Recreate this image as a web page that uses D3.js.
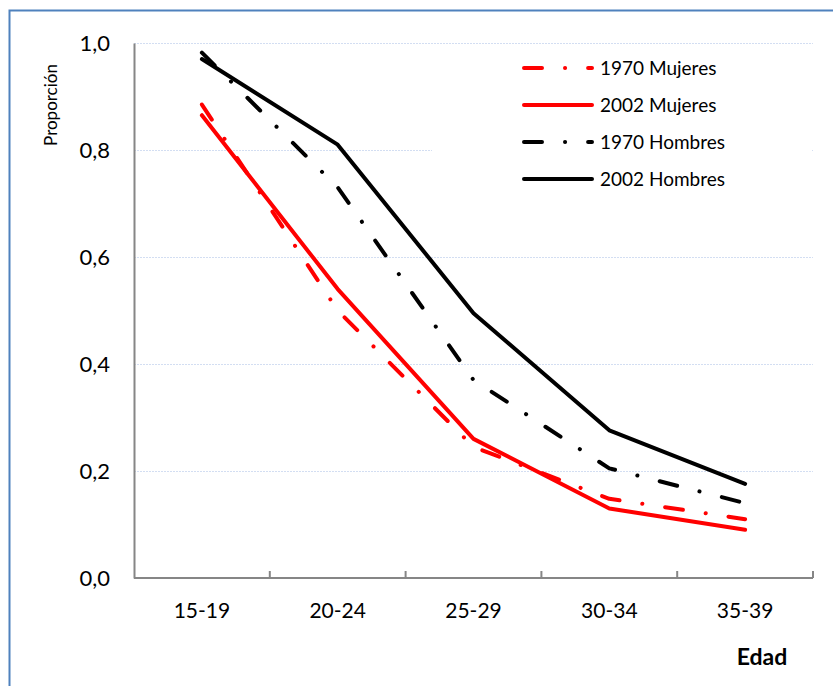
<!DOCTYPE html>
<html><head><meta charset="utf-8">
<script src="https://cdn.jsdelivr.net/npm/d3@7"></script>
<style>body{margin:0;background:#fff;}svg{display:block;font-family:Lato,"Open Sans",sans-serif;}</style>
</head><body><svg id="c" width="833" height="686"></svg>
<script>
const categories = ["15-19","20-24","25-29","30-34","35-39"];
const mujeres1970 = [0.885,0.50,0.245,0.148,0.11];
const mujeres2002 = [0.865,0.54,0.26,0.13,0.09];
const hombres1970 = [0.982,0.73,0.37,0.205,0.14];
const hombres2002 = [0.97,0.81,0.495,0.276,0.176];
const yTicks = [0,0.2,0.4,0.6,0.8,1.0];
const seriesNames = ["1970 Mujeres","2002 Mujeres","1970 Hombres","2002 Hombres"];

const series = [
  {name:seriesNames[0], values:mujeres1970, color:"#ff0000", dash:true},
  {name:seriesNames[1], values:mujeres2002, color:"#ff0000", dash:false},
  {name:seriesNames[2], values:hombres1970, color:"#000000", dash:true},
  {name:seriesNames[3], values:hombres2002, color:"#000000", dash:false}
];
const svg = d3.select("#c");
svg.append("rect").attr("x",9.5).attr("y",10.5).attr("width",840).attr("height",700)
  .attr("fill","#fff").attr("stroke","#4f81bd").attr("stroke-width",2);

const L=134, R=813, T=43, B=578;
const x = d3.scaleBand().domain(categories).range([L,R]);
const y = d3.scaleLinear().domain([0,1]).range([B,T]);

// grid
svg.append("g").selectAll("line").data(yTicks.filter(d=>d>0)).join("line")
  .attr("x1",L).attr("x2",R).attr("y1",d=>y(d)+0.5).attr("y2",d=>y(d)+0.5)
  .attr("stroke","#d3def2").attr("stroke-width",1).attr("stroke-dasharray","2,1");

// y axis
const ya = svg.append("g").attr("transform",`translate(${L},0)`)
  .call(d3.axisLeft(y).tickValues(yTicks).tickSize(0).tickPadding(24).tickFormat(d=>d3.format(".1f")(d).replace(".",",")));
ya.select(".domain").attr("stroke","#868686").attr("stroke-width",2);
ya.selectAll("text").attr("font-size",22).attr("fill","#000").attr("font-family","Lato,'Open Sans',sans-serif");

// x axis
const xa = svg.append("g").attr("transform",`translate(0,${B})`)
  .call(d3.axisBottom(x).tickSize(0).tickPadding(25));
xa.select(".domain").attr("stroke","#868686").attr("stroke-width",2).attr("d",`M${L},0H${R}`);
xa.selectAll("text").attr("font-size",21).attr("fill","#000").attr("font-family","Lato,'Open Sans',sans-serif");
svg.append("g").selectAll("line").data(categories).join("line")
  .attr("x1",d=>x(d)+x.bandwidth()).attr("x2",d=>x(d)+x.bandwidth())
  .attr("y1",B).attr("y2",B-7).attr("stroke","#868686").attr("stroke-width",2);

// axis titles
svg.append("text").attr("transform","translate(57,105) rotate(-90)").attr("text-anchor","middle")
  .attr("font-size",17).text("Proporción");
svg.append("text").attr("x",762).attr("y",665).attr("text-anchor","middle")
  .attr("font-size",23).attr("font-weight","bold").text("Edad");

const dashArr = "18,23,0.1,23";
// legend background
svg.append("rect").attr("x",432).attr("y",52).attr("width",380).attr("height",145).attr("fill","#fff");

// lines
const line = d3.line().x((d,i)=>x(categories[i])+x.bandwidth()/2).y(d=>y(d));
svg.append("g").selectAll("path").data(series).join("path")
  .attr("d",d=>line(d.values)).attr("fill","none").attr("stroke",d=>d.color)
  .attr("stroke-width",4).attr("stroke-linecap","round").attr("stroke-linejoin","round")
  .attr("stroke-dasharray",d=>d.dash?dashArr:null);

// legend
const lg = svg.append("g").selectAll("g").data(series).join("g")
  .attr("transform",(d,i)=>`translate(524,${68+i*37})`);
lg.append("path").attr("d","M0,0H68").attr("stroke",d=>d.color).attr("stroke-width",4)
  .attr("stroke-linecap","round").attr("stroke-dasharray",d=>d.dash?"18,23,0.1,23":null);
lg.append("text").attr("x",76).attr("y",7).attr("font-size",19).text(d=>d.name);
</script></body></html>
